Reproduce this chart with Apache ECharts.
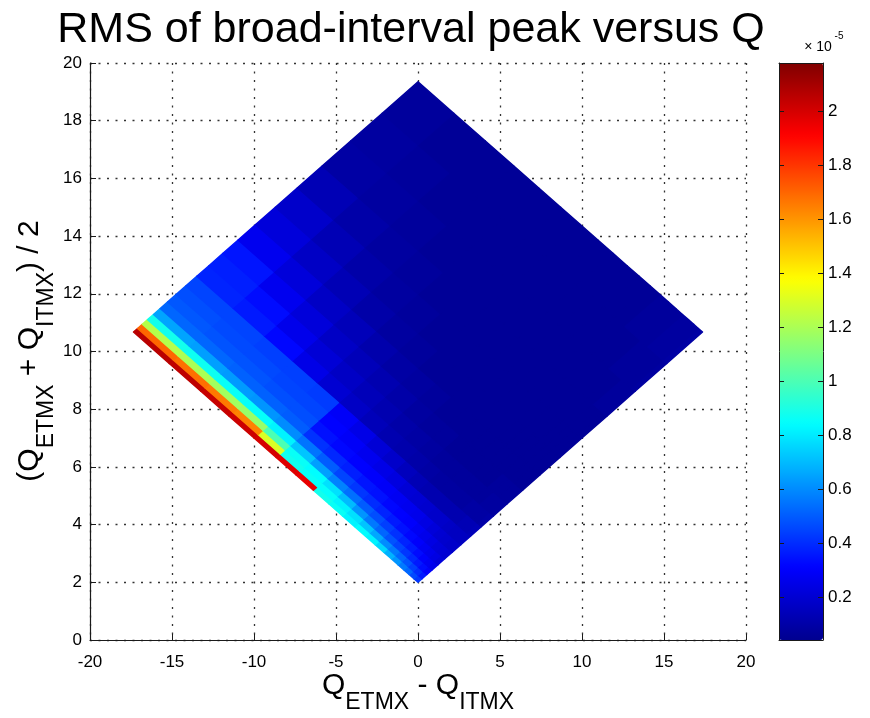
<!DOCTYPE html>
<html>
<head>
<meta charset="utf-8">
<title>RMS of broad-interval peak versus Q</title>
<script src="https://cdn.jsdelivr.net/npm/echarts@6.0.0/dist/echarts.min.js"></script>
<style>
  html, body { margin: 0; padding: 0; background: #fff; }
  #chart { width: 870px; height: 718px; }
</style>
</head>
<body>
<div id="chart"></div>
<script>
// grid of Q values, same for ETMX and ITMX
const qEdges = [2.00, 2.25, 2.54, 2.86, 3.22, 3.63, 4.09, 4.61, 5.20, 5.86,
  6.60, 7.44, 8.38, 9.45, 10.65, 12.00, 13.52, 15.24, 17.17, 19.35]

// rms[i][j] (x 1e-5): cell Q_ETMX in qEdges[i]..[i+1], Q_ITMX in qEdges[j]..[j+1]
const rms = [
  [0.42, 0.46, 0.52, 0.56, 0.62, 0.68, 0.76, 0.82, 0.84, 0.82, 0.86, 0.88, 1.96, 1.98, 2.00, 2.02, 2.03, 2.05, 2.06],
  [0.36, 0.40, 0.44, 0.48, 0.52, 0.56, 0.60, 0.66, 0.72, 0.78, 0.82, 0.85, 0.86, 0.88, 1.30, 1.64, 1.66, 1.68, 1.70],
  [0.30, 0.33, 0.36, 0.39, 0.42, 0.45, 0.48, 0.52, 0.56, 0.62, 0.70, 0.78, 0.84, 0.86, 1.00, 1.16, 1.18, 1.20, 1.22],
  [0.26, 0.28, 0.30, 0.33, 0.36, 0.38, 0.41, 0.44, 0.47, 0.50, 0.54, 0.58, 0.64, 0.72, 0.82, 0.85, 0.86, 0.87, 0.88],
  [0.22, 0.24, 0.26, 0.28, 0.30, 0.32, 0.34, 0.36, 0.38, 0.40, 0.42, 0.45, 0.50, 0.55, 0.60, 0.62, 0.63, 0.64, 0.65],
  [0.20, 0.21, 0.22, 0.24, 0.26, 0.28, 0.30, 0.31, 0.32, 0.34, 0.35, 0.37, 0.39, 0.41, 0.50, 0.51, 0.51, 0.52, 0.52],
  [0.18, 0.18, 0.19, 0.20, 0.22, 0.24, 0.26, 0.27, 0.28, 0.29, 0.30, 0.31, 0.32, 0.34, 0.47, 0.47, 0.48, 0.48, 0.49],
  [0.16, 0.16, 0.16, 0.17, 0.18, 0.18, 0.19, 0.20, 0.21, 0.23, 0.25, 0.27, 0.29, 0.31, 0.45, 0.45, 0.46, 0.46, 0.47],
  [0.14, 0.13, 0.13, 0.12, 0.12, 0.12, 0.12, 0.12, 0.13, 0.15, 0.18, 0.21, 0.25, 0.29, 0.43, 0.44, 0.44, 0.45, 0.45],
  [0.10, 0.09, 0.09, 0.09, 0.08, 0.08, 0.08, 0.08, 0.09, 0.10, 0.11, 0.12, 0.14, 0.17, 0.20, 0.25, 0.32, 0.36, 0.38],
  [0.08, 0.08, 0.08, 0.07, 0.07, 0.07, 0.07, 0.07, 0.07, 0.08, 0.09, 0.10, 0.12, 0.14, 0.17, 0.21, 0.26, 0.33, 0.37],
  [0.07, 0.07, 0.07, 0.07, 0.06, 0.06, 0.06, 0.06, 0.06, 0.07, 0.07, 0.08, 0.10, 0.12, 0.14, 0.17, 0.22, 0.27, 0.35],
  [0.06, 0.06, 0.06, 0.06, 0.06, 0.06, 0.06, 0.06, 0.06, 0.06, 0.06, 0.07, 0.08, 0.09, 0.11, 0.14, 0.17, 0.22, 0.27],
  [0.06, 0.06, 0.06, 0.06, 0.06, 0.06, 0.06, 0.06, 0.06, 0.06, 0.06, 0.06, 0.06, 0.07, 0.08, 0.10, 0.13, 0.17, 0.22],
  [0.06, 0.06, 0.06, 0.06, 0.06, 0.06, 0.06, 0.06, 0.06, 0.06, 0.06, 0.06, 0.06, 0.06, 0.07, 0.08, 0.10, 0.13, 0.18],
  [0.06, 0.06, 0.06, 0.06, 0.06, 0.06, 0.06, 0.06, 0.06, 0.06, 0.06, 0.06, 0.06, 0.06, 0.06, 0.07, 0.08, 0.10, 0.13],
  [0.07, 0.07, 0.07, 0.06, 0.06, 0.06, 0.06, 0.06, 0.06, 0.06, 0.06, 0.06, 0.06, 0.06, 0.06, 0.06, 0.07, 0.08, 0.09],
  [0.08, 0.07, 0.07, 0.07, 0.07, 0.06, 0.06, 0.06, 0.06, 0.06, 0.06, 0.06, 0.06, 0.06, 0.06, 0.06, 0.06, 0.07, 0.08],
  [0.09, 0.08, 0.08, 0.08, 0.07, 0.07, 0.07, 0.06, 0.06, 0.06, 0.06, 0.06, 0.06, 0.06, 0.06, 0.06, 0.06, 0.06, 0.07]
]

const cbarMin = 0.04
const cbarMax = 2.18
const cbarTicks = [0.2, 0.4, 0.6, 0.8, 1, 1.2, 1.4, 1.6, 1.8, 2]
const jet = ['#00008F', '#0000FF', '#0080FF', '#00FFFF', '#80FF80', '#FFFF00', '#FF8000', '#FF0000', '#800000']

const font = '"Liberation Sans", Arial, Helvetica, sans-serif'
const ink = '#1a1a1a'

const cells = []
for (let i = 0; i < rms.length; i++) {
  for (let j = 0; j < rms[i].length; j++) {
    cells.push([qEdges[i], qEdges[i + 1], qEdges[j], qEdges[j + 1], rms[i][j]])
  }
}

// text with subscripts, laid out left to right and centred on 0
const measure = document.createElement('canvas').getContext('2d')
function subText(parts, big, small, drop) {
  const items = []
  let x = 0
  parts.forEach(([t, sub]) => {
    const size = sub ? small : big
    measure.font = size + 'px ' + font
    items.push({
      type: 'text',
      x: x,
      y: sub ? drop : 0,
      style: { text: t, fill: '#000', font: size + 'px ' + font, verticalAlign: 'bottom', align: 'left' }
    })
    x += measure.measureText(t).width
  })
  items.forEach((it) => { it.x -= x / 2 })
  return items
}

function renderCell(params, api) {
  const e0 = api.value(0)
  const e1 = api.value(1)
  const i0 = api.value(2)
  const i1 = api.value(3)
  const pt = (qe, qi) => api.coord([qe - qi, (qe + qi) / 2])
  const color = api.visual('color')
  return {
    type: 'polygon',
    shape: { points: [pt(e0, i0), pt(e1, i0), pt(e1, i1), pt(e0, i1)] },
    style: { fill: color, stroke: color, lineWidth: 1.4, lineJoin: 'round' }
  }
}

const dotted = { color: '#333', width: 1.3, type: [2, 6.5] }

const chart = echarts.init(document.getElementById('chart'))
chart.setOption({
  animation: false,
  backgroundColor: '#fff',
  textStyle: { fontFamily: font },
  grid: [
    { left: 90, top: 63, width: 656, height: 577 },
    { left: 779, top: 63, width: 44, height: 577 }
  ],
  xAxis: [
    {
      type: 'value', min: -20, max: 20, interval: 5,
      axisLine: { onZero: false, lineStyle: { color: ink, width: 1.2 } },
      axisTick: { inside: true, length: 6, lineStyle: { color: ink } },
      axisLabel: { margin: 14, fontSize: 17, color: '#000' },
      splitLine: { show: true, lineStyle: dotted }
    },
    { gridIndex: 1, type: 'value', min: 0, max: 1, position: 'bottom', z: 10,
      axisLine: { onZero: false, lineStyle: { color: ink } }, axisTick: { show: false }, axisLabel: { show: false }, splitLine: { show: false } },
    { gridIndex: 1, type: 'value', min: 0, max: 1, position: 'top', z: 10,
      axisLine: { onZero: false, lineStyle: { color: ink } }, axisTick: { show: false }, axisLabel: { show: false }, splitLine: { show: false } }
  ],
  yAxis: [
    {
      type: 'value', min: 0, max: 20, interval: 2,
      axisLine: { onZero: false, lineStyle: { color: ink, width: 1.2 } },
      axisTick: { inside: true, length: 6, lineStyle: { color: ink } },
      axisLabel: { margin: 8, fontSize: 17, color: '#000' },
      splitLine: { show: true, lineStyle: dotted }
    },
    {
      gridIndex: 1, type: 'value', min: cbarMin, max: cbarMax, position: 'right', z: 10,
      axisLine: { onZero: false, lineStyle: { color: ink } },
      axisTick: { inside: true, length: 5, customValues: cbarTicks, lineStyle: { color: ink } },
      axisLabel: { margin: 5, fontSize: 17, color: '#000', customValues: cbarTicks,
        formatter: (v) => String(+v.toFixed(1)) },
      splitLine: { show: false }
    },
    {
      gridIndex: 1, type: 'value', min: cbarMin, max: cbarMax, position: 'left', z: 10,
      axisLine: { onZero: false, lineStyle: { color: ink } },
      axisTick: { inside: true, length: 5, customValues: cbarTicks, lineStyle: { color: ink } },
      axisLabel: { show: false },
      splitLine: { show: false }
    }
  ],
  visualMap: {
    type: 'continuous',
    seriesIndex: 0,
    dimension: 4,
    min: cbarMin,
    max: cbarMax,
    calculable: false,
    hoverLink: false,
    orient: 'vertical',
    left: 774,
    top: 58,
    padding: 5,
    itemWidth: 44,
    itemHeight: 577,
    inRange: { color: jet }
  },
  series: [
    {
      type: 'custom',
      xAxisIndex: 0,
      yAxisIndex: 0,
      renderItem: renderCell,
      data: cells,
      encode: { x: 0, y: 2 }
    }
  ],
  graphic: [
    {
      type: 'text', x: 411, y: 9,
      style: { text: 'RMS of broad-interval peak versus Q', fill: '#000', font: '43px ' + font, align: 'center', verticalAlign: 'top' }
    },
    {
      type: 'text', x: 818, y: 54,
      style: { text: '× 10', fill: '#000', font: '14px ' + font, align: 'center', verticalAlign: 'bottom' }
    },
    {
      type: 'text', x: 839, y: 41,
      style: { text: '-5', fill: '#000', font: '10px ' + font, align: 'center', verticalAlign: 'bottom' }
    },
    {
      type: 'group', x: 418, y: 701,
      children: subText([['Q', 0], ['ETMX', 1], [' - ', 0], ['Q', 0], ['ITMX', 1]], 30, 23, 13)
    },
    {
      type: 'group', x: 45, y: 351, rotation: Math.PI / 2,
      children: subText([['(', 0], ['Q', 0], ['ETMX', 1], [' + ', 0], ['Q', 0], ['ITMX', 1], [') / 2', 0]], 30, 23, 13)
    }
  ]
})
</script>
</body>
</html>
